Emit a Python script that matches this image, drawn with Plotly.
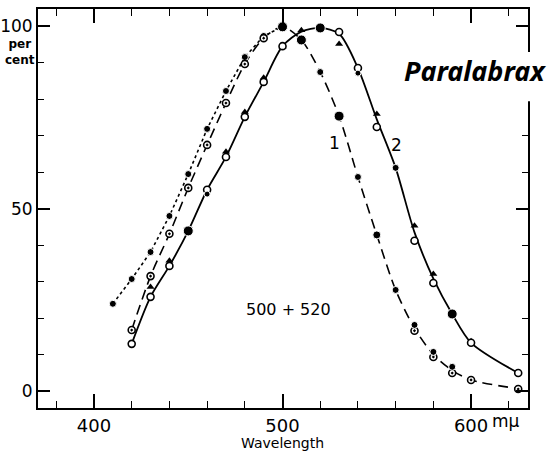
import plotly.graph_objects as go

# ---------------- data (wavelength in mμ, response in per cent) ----------------
# Curve 1, left branch, filled dots on dotted line
c1_dot_wl = [410, 420, 430, 440, 450, 460, 470, 480, 490, 500]
c1_dot_val = [23.9, 30.7, 38.1, 48.0, 59.5, 71.9, 82.3, 91.6, 97.4, 99.9]

# Curve 1, dashed line
c1_line_wl = [420, 430, 440, 450, 460, 470, 480, 490, 500, 510, 520, 530, 540, 550, 560, 570, 580, 590, 600, 625]
c1_line_val = [16.7, 31.5, 43.1, 55.7, 67.5, 79.0, 89.7, 96.8, 99.9, 96.3, 87.5, 75.4, 58.7, 42.8, 27.7, 17.2, 10.0, 5.6, 3.0, 0.6]

# Curve 1, open dotted circles
c1_open_wl = [420, 430, 440, 450, 460, 470, 480, 490, 570, 580, 590, 600, 625]
c1_open_val = [16.7, 31.5, 43.1, 55.7, 67.5, 79.0, 89.7, 96.8, 16.5, 9.3, 4.9, 3.0, 0.5]

# Curve 1, filled dots on descending limb
c1_fill_wl = [510, 520, 530, 540, 550, 560, 570, 580, 590]
c1_fill_val = [96.3, 87.5, 75.4, 58.7, 42.8, 27.7, 18.1, 10.7, 6.6]
c1_fill_size = [10, 7, 10, 7, 8, 7, 7, 7, 7]

# Curve 2, solid line
c2_line_wl = [420, 430, 440, 450, 460, 470, 480, 490, 500, 510, 520, 530, 540, 550, 560, 570, 580, 590, 600, 625]
c2_line_val = [12.9, 25.8, 34.3, 43.9, 55.2, 64.2, 75.2, 84.8, 94.6, 98.6, 99.6, 98.0, 88.6, 74.5, 61.2, 43.5, 30.8, 21.1, 13.2, 4.9]

# Curve 2, open circles
c2_open_wl = [420, 430, 440, 460, 470, 480, 490, 500, 530, 540, 550, 570, 580, 600, 625]
c2_open_val = [12.9, 25.8, 34.3, 55.2, 64.2, 75.2, 84.8, 94.6, 98.5, 88.6, 72.4, 41.2, 29.6, 13.2, 4.9]

# Curve 2, filled dots
c2_fill_wl = [450, 460, 520, 540, 560, 590]
c2_fill_val = [43.9, 54.0, 99.6, 87.2, 61.2, 21.1]
c2_fill_size = [10, 6, 10, 6, 7, 10]

# Curve 2, triangles
c2_tri_wl = [430, 440, 470, 480, 490, 500, 510, 530, 550, 570, 580, 600]
c2_tri_val = [28.5, 35.7, 65.6, 76.5, 85.9, 94.4, 99.0, 95.2, 76.0, 45.3, 32.1, 13.6]

x_ticks = [400, 500, 600]
x_ticktext = ["400", "500", "600"]
y_ticks = [0, 50, 100]
y_ticktext = ["0", "50", "100"]

XR = [370.3, 630.2]
YR = [-4.7, 104.8]

FONT = "DejaVu Sans"
fig = go.Figure()

# lines
fig.add_trace(go.Scatter(x=c1_dot_wl, y=c1_dot_val, mode="lines",
                         line=dict(color="black", width=1.6, dash="dot"), hoverinfo="skip"))
fig.add_trace(go.Scatter(x=c1_line_wl, y=c1_line_val, mode="lines",
                         line=dict(color="black", width=1.6, dash="10px,6px", shape="spline", smoothing=0.8),
                         hoverinfo="skip"))
fig.add_trace(go.Scatter(x=c2_line_wl, y=c2_line_val, mode="lines",
                         line=dict(color="black", width=1.8, shape="spline", smoothing=0.8), hoverinfo="skip"))

# markers
fig.add_trace(go.Scatter(x=c1_dot_wl, y=c1_dot_val, mode="markers",
                         marker=dict(symbol="circle", size=[7]*9 + [10], color="black", opacity=1)))
fig.add_trace(go.Scatter(x=c1_open_wl, y=c1_open_val, mode="markers",
                         marker=dict(symbol="circle-dot", size=7, color="white", opacity=1,
                                     line=dict(color="black", width=1.6))))
fig.add_trace(go.Scatter(x=c1_fill_wl, y=c1_fill_val, mode="markers",
                         marker=dict(symbol="circle", size=c1_fill_size, color="black", opacity=1)))
fig.add_trace(go.Scatter(x=c2_tri_wl, y=c2_tri_val, mode="markers",
                         marker=dict(symbol="triangle-up", size=7, color="black", opacity=1)))
fig.add_trace(go.Scatter(x=c2_open_wl, y=c2_open_val, mode="markers",
                         marker=dict(symbol="circle", size=7, color="white", opacity=1,
                                     line=dict(color="black", width=1.6))))
fig.add_trace(go.Scatter(x=c2_fill_wl, y=c2_fill_val, mode="markers",
                         marker=dict(symbol="circle", size=c2_fill_size, color="black", opacity=1)))


def ypaper(v):
    return (v - YR[0]) / (YR[1] - YR[0])


# gap in right axis behind the label
fig.add_shape(type="rect", xref="paper", yref="paper", x0=0.95, x1=1.03,
              y0=ypaper(79.5), y1=ypaper(93.0), fillcolor="white", line=dict(width=0), layer="above")

ann = dict(showarrow=False, xanchor="center", yanchor="middle")
fig.add_annotation(x=602, y=88, xref="x", yref="y", text="<b><i>Paralabrax</i></b>",
                   font=dict(family="Noto Sans", size=27, color="black"), **ann)
fig.add_annotation(x=527.3, y=68, xref="x", yref="y", text="1",
                   font=dict(family=FONT, size=17, color="black"), **ann)
fig.add_annotation(x=560.7, y=67.5, xref="x", yref="y", text="2",
                   font=dict(family=FONT, size=17, color="black"), **ann)
fig.add_annotation(x=502.9, y=22.2, xref="x", yref="y", text="500 + 520",
                   font=dict(family=FONT, size=16, color="black"), **ann)
fig.add_annotation(x=(506 - 38) / 490, y=(408 - 421) / 399, xref="paper", yref="paper",
                   text="mμ", font=dict(family=FONT, size=17, color="black"), **ann)
fig.add_annotation(x=(282 - 38) / 490, y=(408 - 443) / 399, xref="paper", yref="paper",
                   text="Wavelength", font=dict(family=FONT, size=14, color="black"), **ann)
fig.add_annotation(x=(20 - 38) / 490, y=(408 - 52) / 399, xref="paper", yref="paper",
                   text="<b>per</b><br><b>cent</b>", font=dict(family=FONT, size=12, color="black"),
                   **ann)

fig.update_layout(
    width=553, height=457,
    margin=dict(l=38, r=25, t=9, b=49, autoexpand=False),
    paper_bgcolor="white", plot_bgcolor="white",
    showlegend=False,
    font=dict(family=FONT, size=17, color="black"),
)
fig.update_xaxes(range=XR, showgrid=False, zeroline=False, showline=True, linecolor="black",
                 linewidth=2, mirror="ticks", ticks="inside", ticklen=14, tickwidth=1.6,
                 tickcolor="black", tickvals=x_ticks, ticktext=x_ticktext, automargin=False,
                 tickfont=dict(family=FONT, size=18),
                 minor=dict(dtick=20, tick0=0, ticks="inside", ticklen=7, tickwidth=1.4, tickcolor="black"))
fig.update_yaxes(range=YR, showgrid=False, zeroline=False, showline=True, linecolor="black",
                 linewidth=2, mirror="ticks", ticks="inside", ticklen=12, tickwidth=1.6,
                 tickcolor="black", tickvals=y_ticks, ticktext=y_ticktext, automargin=False,
                 tickfont=dict(family=FONT, size=17),
                 minor=dict(dtick=10, tick0=0, ticks="inside", ticklen=6, tickwidth=1.4, tickcolor="black"))

fig.write_html("out.html")
